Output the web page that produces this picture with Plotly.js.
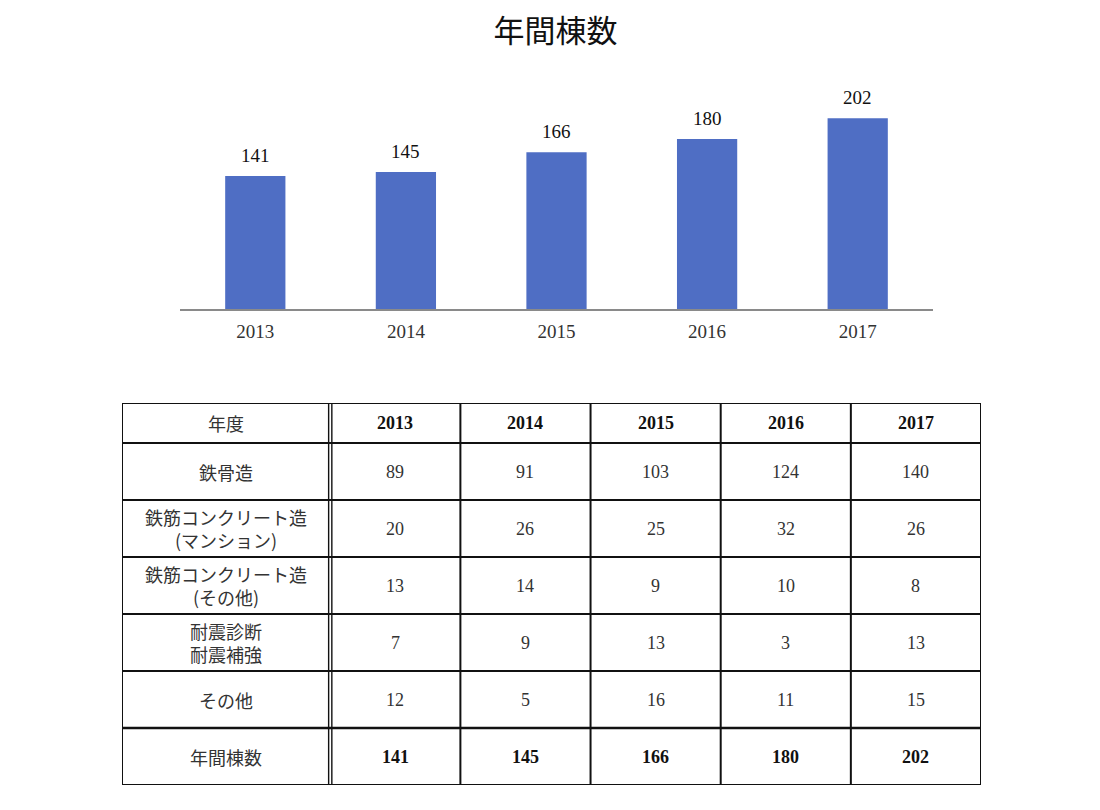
<!DOCTYPE html>
<html>
<head>
<meta charset="utf-8">
<script src="https://cdn.plot.ly/plotly-3.0.1.min.js"></script>
<style>html,body{margin:0;padding:0;background:#fff;}#chart{width:1100px;height:810px;}</style>
</head>
<body>
<div id="chart"></div>
<script>
// ---- data ----
const years = ['2013', '2014', '2015', '2016', '2017'];
const annualTotals = [141, 145, 166, 180, 202];
const rowLabels = ['鉄骨造', '鉄筋コンクリート造<br>(マンション)', '鉄筋コンクリート造<br>(その他)', '耐震診断<br>耐震補強', 'その他', '年間棟数'];
const steelFrame = [89, 91, 103, 124, 140];
const rcMansion = [20, 26, 25, 32, 26];
const rcOther = [13, 14, 9, 10, 8];
const seismic = [7, 9, 13, 3, 13];
const others = [12, 5, 16, 11, 15];
const headerLabel = '年度';
const chartTitle = '年間棟数';

// ---- layout helpers ----
const W = 1100, H = 810;
const px = x => x / W;
const py = y => 1 - y / H;
const serif = 'Liberation Serif, Noto Sans CJK JP, serif';
const jp = 'Noto Sans CJK JP, sans-serif';

// table geometry (pixels, used for the table subplot's own axes)
const colW = [208, 130, 130, 130, 130, 130];
const rowH = [40, 57, 57, 57, 57, 57, 57];
const colEdges = [0]; colW.forEach(w => colEdges.push(colEdges[colEdges.length - 1] + w));
const rowEdges = [0]; rowH.forEach(h => rowEdges.push(rowEdges[rowEdges.length - 1] + h));
const totalW = colEdges[colEdges.length - 1];
const totalH = rowEdges[rowEdges.length - 1];
const colMid = i => (colEdges[i] + colEdges[i + 1]) / 2;
const rowMid = j => (rowEdges[j] + rowEdges[j + 1]) / 2;

const dataRows = [steelFrame, rcMansion, rcOther, seismic, others];

// ---- bar chart ----
const barTrace = {
  type: 'bar',
  x: years,
  y: annualTotals,
  marker: {color: '#4F6EC4'},
  xaxis: 'x', yaxis: 'y',
  hoverinfo: 'x+y'
};

const annotations = [];
years.forEach((yr, i) => {
  annotations.push({
    xref: 'x', yref: 'y', x: i, y: annualTotals[i],
    text: String(annualTotals[i]), showarrow: false,
    yanchor: 'bottom', yshift: 8,
    font: {family: serif, size: 19, color: '#111'}
  });
});

// ---- table (drawn on its own axes) ----
const cellFont = {family: serif, size: 18, color: '#333'};
const labelFont = {family: jp, size: 18, color: '#333'};
// header row
annotations.push({xref: 'x2', yref: 'y2', x: colMid(0), y: rowMid(0), text: headerLabel,
  showarrow: false, font: labelFont});
years.forEach((yr, i) => {
  annotations.push({xref: 'x2', yref: 'y2', x: colMid(i + 1), y: rowMid(0), text: '<b>' + yr + '</b>',
    showarrow: false, font: {family: serif, size: 18, color: '#111'}});
});
// body rows
rowLabels.forEach((lab, j) => {
  annotations.push({xref: 'x2', yref: 'y2', x: colMid(0), y: rowMid(j + 1), text: lab,
    showarrow: false, align: 'center', font: labelFont});
});
dataRows.forEach((row, j) => {
  row.forEach((v, i) => {
    annotations.push({xref: 'x2', yref: 'y2', x: colMid(i + 1), y: rowMid(j + 1), text: String(v),
      showarrow: false, font: cellFont});
  });
});
annualTotals.forEach((v, i) => {
  annotations.push({xref: 'x2', yref: 'y2', x: colMid(i + 1), y: rowMid(rowH.length - 1), text: '<b>' + v + '</b>',
    showarrow: false, font: {family: serif, size: 18, color: '#111'}});
});

const shapes = [];
const line = (x0, y0, x1, y1, w) => shapes.push({type: 'line', xref: 'x2', yref: 'y2', x0, y0, x1, y1,
  line: {color: '#111', width: w}});
// horizontal lines
rowEdges.forEach((y, j) => {
  let w = 2;
  if (j === rowEdges.length - 2) w = 2.6;
  line(0, y, totalW, y, w);
});
// vertical lines
colEdges.forEach((x, i) => {
  if (i === 1) {
    line(x - 1.6, 0, x - 1.6, totalH, 1.4);
    line(x + 1.6, 0, x + 1.6, totalH, 1.4);
  } else {
    line(x, 0, x, totalH, 2);
  }
});

const tableAnchor = {
  type: 'scatter', x: [0, totalW], y: [0, totalH], mode: 'markers',
  marker: {opacity: 0}, xaxis: 'x2', yaxis: 'y2', hoverinfo: 'skip'
};

const layout = {
  width: W, height: H,
  margin: {l: 0, r: 0, t: 0, b: 0},
  paper_bgcolor: '#fff',
  plot_bgcolor: '#fff',
  showlegend: false,
  title: {text: chartTitle, x: 0.505, xanchor: 'center', y: py(31), yanchor: 'middle',
          font: {family: jp, size: 31, color: '#111'}},
  bargap: 0.6,
  xaxis: {
    domain: [px(180), px(933)],
    type: 'category',
    range: [-0.5, years.length - 0.5],
    showline: true, linecolor: '#8a8a8a', linewidth: 2,
    ticks: '', showgrid: false, zeroline: false,
    ticklabelstandoff: 4,
    tickfont: {family: serif, size: 19, color: '#333'}
  },
  yaxis: {
    domain: [py(309), py(73)],
    range: [0, 250],
    visible: false, showgrid: false, zeroline: false
  },
  xaxis2: {
    domain: [px(122), px(981)], range: [0, totalW], visible: false, anchor: 'y2', fixedrange: true
  },
  yaxis2: {
    domain: [py(785), py(403)], range: [totalH, 0], visible: false, anchor: 'x2', fixedrange: true
  },
  annotations: annotations,
  shapes: shapes
};

Plotly.newPlot('chart', [barTrace, tableAnchor], layout, {displayModeBar: false, staticPlot: true});
</script>
</body>
</html>
